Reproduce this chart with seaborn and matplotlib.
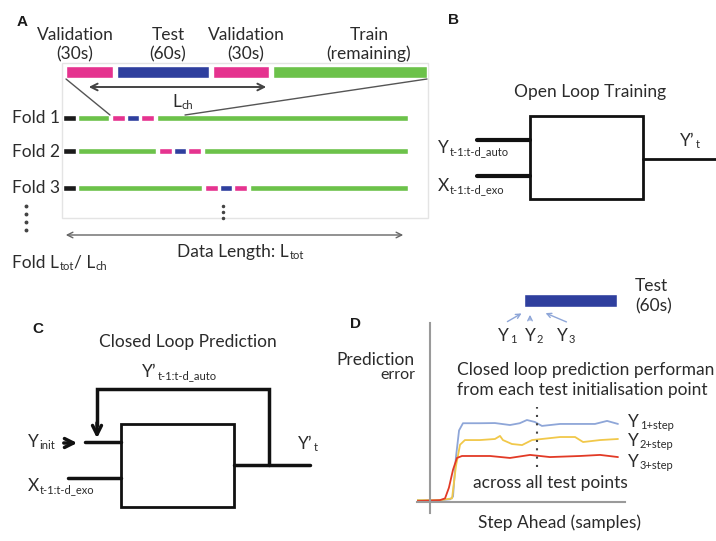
# -*- coding: utf-8 -*-

"""
Schematic of the cross-validation folds, open / closed loop NARX set-up and
the closed loop prediction error per step ahead. Saved to out.png.
"""

import matplotlib
matplotlib.use("Agg")
import numpy as np
import pandas as pd
import matplotlib.pyplot as plt
from matplotlib.patches import Rectangle
import seaborn as sns

# ---------------------------------------------------------------- data ----

# Panel A: the chunk that is held out (lengths in schematic units)
top_labels = ["Validation", "Test", "Validation", "Train"]
top_sublabels = ["(30s)", "(60s)", "(30s)", "(remaining)"]
top_lengths = [47, 92, 56, 154]
top_colors = ["#e5338f", "#2f3f9e", "#e5338f", "#6cc24a"]

# Panel A: folds, each one moves the held out chunk further along the data
fold_names = ["Fold 1", "Fold 2", "Fold 3"]
fold_train_before = [31, 78, 124]   # green length before the chunk
chunk_lengths = [13, 12, 13]       # validation, test, validation
chunk_colors = ["#e5338f", "#2f3f9e", "#e5338f"]
warmup_length = 13
data_end = 408

# Panel D: closed loop prediction error against step ahead
step_1 = [-6.7, 5, 10.3, 11.8, 13.3, 14.9, 16.9, 25.6, 33.3, 41, 46, 49.7,
          53.8, 57.4, 66.7, 76.9, 84.6, 90.8, 96.4]
err_1 = [1, 1, 1.5, 3, 25, 40, 44, 44, 44.1, 43, 44, 45.8,
         44.7, 42.5, 43.6, 43.6, 43.6, 45.3, 43.6]

step_2 = [-6.7, 5, 11.3, 13.3, 15.4, 17.9, 25.6, 33.3, 35.9, 37.4, 42, 47.2,
          52.3, 57.4, 66.7, 74.4, 78.5, 87.2, 96.4]
err_2 = [1, 1, 2, 20, 32, 34.6, 34.6, 35.2, 36.9, 34.6, 32.4, 31.8,
         34.6, 35.2, 36.3, 36.3, 33.5, 34.6, 35.2]

step_3 = [-6.7, 5, 7.7, 9.7, 11.8, 13.8, 16.4, 30.8, 41, 51.3, 61.5, 76.9,
          87.2, 96.4]
err_3 = [0.5, 1, 2, 8, 18, 24.6, 25.7, 25.7, 24.6, 26.3, 25.1, 25.7,
         26.3, 25.1]

curve_names = ["Y1", "Y2", "Y3"]
curve_colors = ["#8ea6d8", "#f1c84a", "#e23a26"]

# ---------------------------------------------------------------- style ---

sns.set_theme(style="white")
plt.rcParams['font.family'] = ['Lato', 'DejaVu Sans']
plt.rcParams['text.color'] = '#2b2b2b'

TXT = '#2b2b2b'
FS = 12.5

fig = plt.figure(figsize=(7.16, 5.41), dpi=100)
fig.patch.set_facecolor('white')

# One axes in pixel units for the whole schematic
ax = fig.add_axes([0, 0, 1, 1])
ax.set_xlim(0, 716)
ax.set_ylim(541, 0)
ax.axis('off')


def sub_text(x, y, main, sub, size=FS, sub_size=8, dy=0.5, ha='left'):
    """Write main text with a subscript placed right after it."""
    t = ax.text(x, y, main, fontsize=size, va='baseline', ha=ha, color=TXT)
    s = ax.annotate(sub, xy=(1, 0), xycoords=t, xytext=(0.5, dy),
                    textcoords='offset points', fontsize=sub_size,
                    va='baseline', ha='left', color=TXT)
    return t, s


def panel_label(x, y, letter):
    ax.text(x, y, letter, fontsize=11, fontweight='bold', va='baseline',
            family='Liberation Sans', color='#1a1a1a')


# ---------------------------------------------------------------- A -------

panel_label(17, 26, "A")

# Frame around the fold illustration
ax.add_patch(Rectangle((62, 63), 366, 155, fill=False, ec='#e4e4e4', lw=1))

# Top bar (zoom of the held out chunk)
label_x = [75, 168, 246, 369]
lefts = np.concatenate([[66], 66 + np.cumsum(np.array(top_lengths) + 4)[:-1]])
ax.broken_barh(list(zip(lefts, top_lengths)), (66, 12),
               facecolors=top_colors)
for lx, lab, sub in zip(label_x, top_labels, top_sublabels):
    ax.text(lx, 40, lab, fontsize=FS, ha='center', va='baseline', color=TXT)
    ax.text(lx, 59, sub, fontsize=FS, ha='center', va='baseline', color=TXT)

# Zoom lines from the top bar down to fold 1
ax.plot([66, 110], [79, 115], color='#555555', lw=1)
ax.plot([427, 185], [79, 115], color='#555555', lw=1)

# L_ch arrow
ax.annotate('', xy=(86, 87), xytext=(269, 87),
            arrowprops=dict(arrowstyle='<->', color='#444444', lw=1.4,
                            mutation_scale=12))
sub_text(172, 107, "L", "ch", size=FS, sub_size=8)

# Folds
fold_y = [118, 151, 188]
label_base = [123, 157, 193]
for name, yb, yl, before in zip(fold_names, fold_y, label_base,
                                fold_train_before):
    ax.text(12, yl, name, fontsize=FS, va='baseline', color=TXT)
    ax.broken_barh([(63, warmup_length)], (yb - 3, 6), facecolors='#1a1a1a')
    x0 = 63 + warmup_length + 2
    ax.broken_barh([(x0, before)], (yb - 3, 6), facecolors='#6cc24a')
    cx = x0 + before + 3
    for ln, col in zip(chunk_lengths, chunk_colors):
        ax.broken_barh([(cx, ln)], (yb - 3, 6), facecolors=col)
        cx += ln + 2
    ax.broken_barh([(cx + 1, data_end - cx - 1)], (yb - 3, 6),
                   facecolors='#6cc24a')

# Ellipsis dots
ax.plot([26] * 4, [206, 214, 222, 230], ls='none', marker='o', ms=1.8,
        color='#444444')
ax.plot([223] * 3, [206, 212, 218], ls='none', marker='o', ms=1.5,
        color='#444444')

# Data length arrow
ax.annotate('', xy=(63, 235), xytext=(406, 235),
            arrowprops=dict(arrowstyle='<->', color='#666666', lw=1,
                            mutation_scale=10))
sub_text(177, 257, "Data Length: L", "tot")

t, s = sub_text(12, 268, "Fold L", "tot")
t2 = ax.annotate("/ L", xy=(1, 0), xycoords=(s, t), xytext=(0, 0),
                 textcoords='offset points', fontsize=FS, va='bottom',
                 color=TXT)
ax.annotate("ch", xy=(1, 0), xycoords=t2, xytext=(0.5, 0.5),
            textcoords='offset points', fontsize=8, va='baseline', color=TXT)

# ---------------------------------------------------------------- B -------

panel_label(448, 24, "B")
ax.text(590, 97, "Open Loop Training", fontsize=FS, ha='center',
        va='baseline', color=TXT)
ax.add_patch(Rectangle((530, 116), 113, 83, fill=False, ec='#111111', lw=2))
ax.plot([477, 530], [140, 140], color='#111111', lw=3)
ax.plot([477, 530], [176, 176], color='#111111', lw=3)
ax.plot([643, 716], [159, 159], color='#111111', lw=2)
sub_text(438, 153, "Y", "t-1:t-d_auto", sub_size=8)
sub_text(438, 191, "X", "t-1:t-d_exo", sub_size=8)
sub_text(680, 146, "Y\u2019", "t", sub_size=8)

# ---------------------------------------------------------------- C -------

panel_label(32, 333, "C")
ax.text(188, 347, "Closed Loop Prediction", fontsize=FS, ha='center',
        va='baseline', color=TXT)
ax.add_patch(Rectangle((121, 424), 113, 83, fill=False, ec='#111111', lw=2))
ax.plot([85, 121], [442, 442], color='#111111', lw=2.5)
ax.plot([68, 121], [478, 478], color='#111111', lw=2.5)
ax.plot([234, 310], [465, 465], color='#111111', lw=2.5)

# Feedback loop from the output back to the auto-regressive input
ax.plot([269, 269, 97, 97], [465, 389, 389, 425], color='#111111', lw=2.5,
        solid_joinstyle='miter')
ax.annotate('', xy=(97, 441), xytext=(97, 420),
            arrowprops=dict(arrowstyle='->', color='#111111', lw=2.5,
                            mutation_scale=16))
sub_text(142, 377, "Y\u2019", "t-1:t-d_auto", sub_size=8)
sub_text(28, 447, "Y", "init", sub_size=8)
ax.annotate('', xy=(80, 443), xytext=(61, 443),
            arrowprops=dict(arrowstyle='->', color='#111111', lw=2.5,
                            mutation_scale=16))
sub_text(298, 449, "Y\u2019", "t", sub_size=8)
sub_text(28, 491, "X", "t-1:t-d_exo", sub_size=8)

# ---------------------------------------------------------------- D -------

panel_label(350, 328, "D")
ax.broken_barh([(524, 93)], (294, 13), facecolors='#2f3f9e')
ax.text(635, 291, "Test", fontsize=FS, va='baseline', color=TXT)
ax.text(635, 311, "(60s)", fontsize=FS, va='baseline', color=TXT)

# Initialisation points pointing into the test chunk
for (x0, y0), (x1, y1) in [((505, 323), (524, 312)),
                           ((530, 323), (530, 312)),
                           ((569, 323), (543, 312))]:
    ax.annotate('', xy=(x1, y1), xytext=(x0, y0),
                arrowprops=dict(arrowstyle='->', color='#8ea6d8', lw=1,
                                mutation_scale=8))
for xl, n in zip([498, 525, 557], ["1", "2", "3"]):
    sub_text(xl, 341, "Y", n, sub_size=8)

ax.text(415, 365, "Prediction", fontsize=FS, ha='right', va='baseline',
        color=TXT)
ax.text(415, 379, "error", fontsize=FS - 1, ha='right', va='baseline',
        color=TXT)
ax.text(457, 375, "Closed loop prediction performan", fontsize=FS,
        va='baseline', color=TXT)
ax.text(457, 395, "from each test initialisation point", fontsize=FS,
        va='baseline', color=TXT)
ax.text(473, 488, "across all test points", fontsize=FS, va='baseline',
        color=TXT)
ax.text(560, 528, "Step Ahead (samples)", fontsize=FS, ha='center',
        va='baseline', color=TXT)
for yb, n in zip([427, 446, 467], ["1", "2", "3"]):
    sub_text(628, yb, "Y", n + "+step", sub_size=8)

# Inset axes holding the error curves
W, H = 716.0, 541.0
axd = fig.add_axes([417 / W, 1 - 513 / H, 208 / W, 190 / H])
axd.patch.set_alpha(0)

curves = pd.concat([
    pd.DataFrame({'step': s, 'error': e, 'start': n})
    for s, e, n in zip([step_1, step_2, step_3], [err_1, err_2, err_3],
                       curve_names)
], ignore_index=True)

sns.lineplot(data=curves, x='step', y='error', hue='start',
             palette=dict(zip(curve_names, curve_colors)), sort=False,
             estimator=None, lw=1.3, legend=False, ax=axd)

axd.set_xlim(-6.67, 100)
axd.set_ylim(-6.15, 100)
axd.set_xticks([])
axd.set_yticks([])
axd.set_xlabel('')
axd.set_ylabel('')
for side in ['top', 'right']:
    axd.spines[side].set_visible(False)
axd.spines['left'].set_position(('data', 0))
axd.spines['bottom'].set_position(('data', 0))
for side in ['left', 'bottom']:
    axd.spines[side].set_color('#9a9a9a')
    axd.spines[side].set_linewidth(1.5)

# Dotted marker across the curves
axd.plot([55, 55], [19.5, 53], ls=(0, (1, 3)), color='#444444', lw=1.5)

fig.savefig('out.png', dpi=100, facecolor='white')
